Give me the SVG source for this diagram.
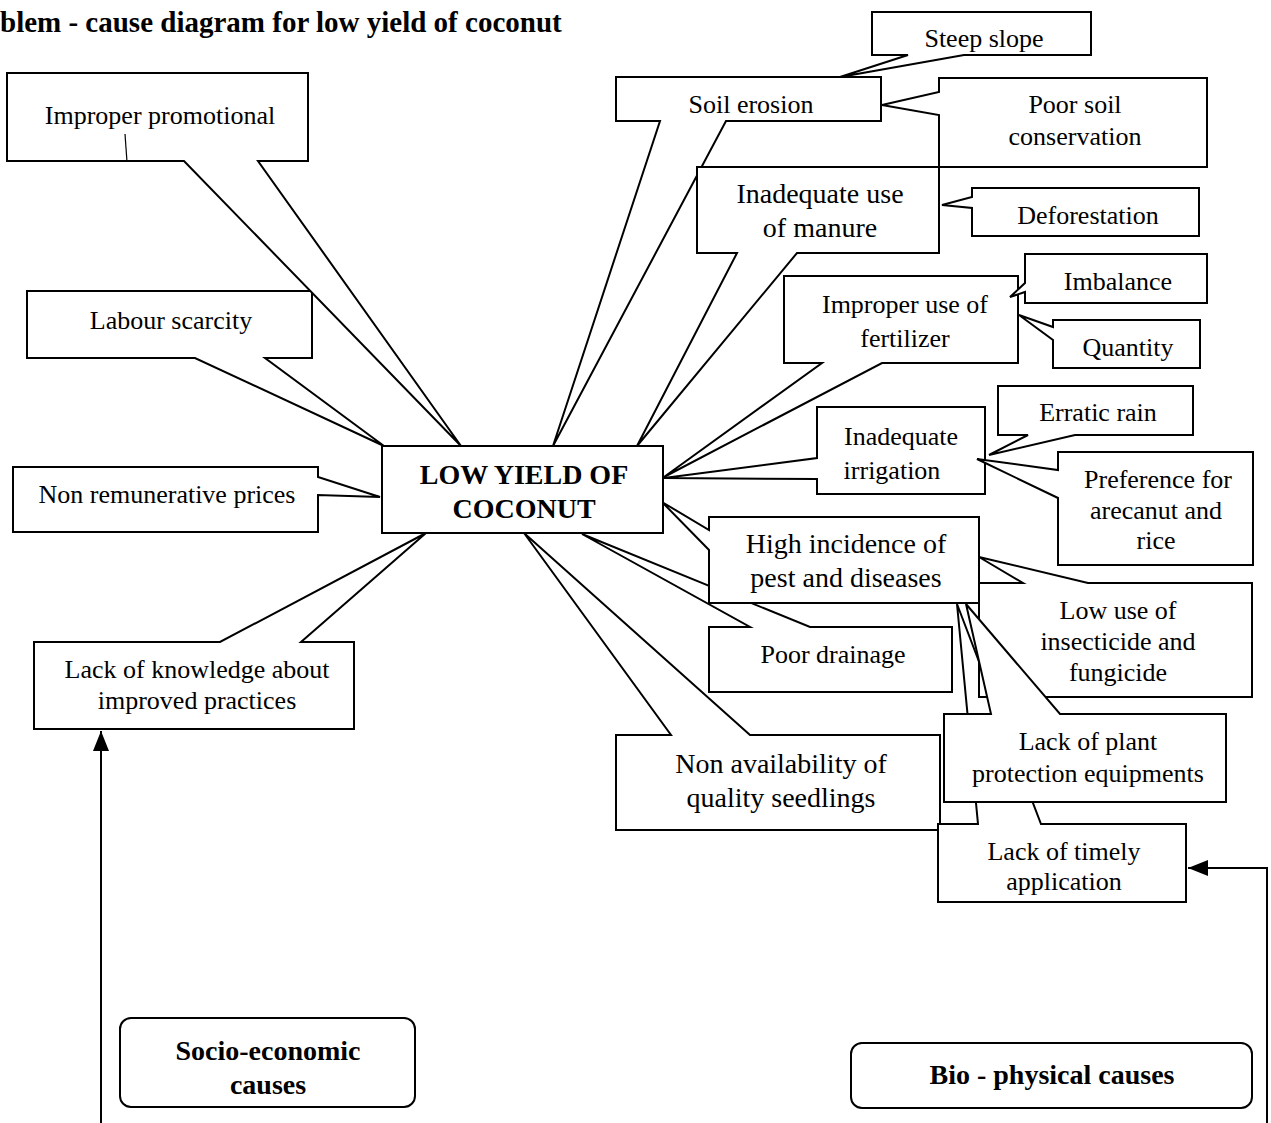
<svg xmlns="http://www.w3.org/2000/svg" width="1271" height="1123" viewBox="0 0 1271 1123">
<style>
.box{fill:#fff;stroke:#000;stroke-width:2;stroke-linejoin:miter}
.t{font-family:"Liberation Serif","Times New Roman",serif;font-size:26px;text-anchor:middle;fill:#000}
.lg{font-size:28px}
.b{font-weight:bold;font-size:28px}
.ln{fill:none;stroke:#000;stroke-width:2}
</style>
<defs>
<marker id="ah" viewBox="0 0 20 16" refX="20" refY="8" markerWidth="20" markerHeight="16" markerUnits="userSpaceOnUse" orient="auto">
<path d="M0,0 L20,8 L0,16 Z" fill="#000"/>
</marker>
</defs>
<rect width="1271" height="1123" fill="#fff"/>
<text x="0" y="32" style="font-family:'Liberation Serif','Times New Roman',serif;font-weight:bold;font-size:29px">blem - cause diagram for low yield of coconut</text>

<g id="non-availability">
<path class="box" d="M616,735 H671 L524,533 L750,735 H940 V830 H616 Z"/>
<text class="t lg" x="781" y="773">Non availability of</text>
<text class="t lg" x="781" y="807">quality seedlings</text>
</g>
<g id="timely-application">
<path class="box" d="M938,824 H978 L957,604 L1041,824 H1186 V902 H938 Z"/>
<text class="t" x="1064" y="860">Lack of timely</text>
<text class="t" x="1064" y="890">application</text>
</g>
<g id="poor-drainage">
<path class="box" d="M709,627 H750 L582,534 L810,627 H952 V692 H709 Z"/>
<text class="t" x="833" y="663">Poor drainage</text>
</g>
<g id="high-incidence">
<path class="box" d="M709,517 H979 V603 H709 V550 L662,502 L709,530 Z"/>
<text class="t lg" x="846" y="553">High incidence of</text>
<text class="t lg" x="846" y="587">pest and diseases</text>
</g>
<g id="low-use">
<path class="box" d="M979,583 H1023 L979,557 L1088,583 H1252 V697 H979 Z"/>
<text class="t" x="1118" y="619">Low use of</text>
<text class="t" x="1118" y="650">insecticide and</text>
<text class="t" x="1118" y="681">fungicide</text>
</g>
<g id="plant-protection">
<path class="box" d="M944,714 H991 L966,604 L1060,714 H1226 V802 H944 Z"/>
<text class="t" x="1088" y="750">Lack of plant</text>
<text class="t" x="1088" y="782">protection equipments</text>
</g>

<g id="labour-scarcity">
<path class="box" d="M27,291 H312 V358 H265 L384,446 L195,358 H27 Z"/>
<text class="t" x="171" y="329">Labour scarcity</text>
</g>
<g id="improper-promotional">
<path class="box" d="M7,73 H308 V161 H258 L461,446 L184,161 H7 Z"/>
<text class="t" x="160" y="124">Improper promotional</text>
<path d="M125,134 L127,162" stroke="#000" stroke-width="1.2"/>
</g>
<g id="non-remunerative">
<path class="box" d="M13,467 H318 V477 L380,497 L318,495 V532 H13 Z"/>
<text class="t" x="167" y="503">Non remunerative prices</text>
</g>
<g id="lack-knowledge">
<path class="box" d="M34,642 H220 L426,533 L301,642 H354 V729 H34 Z"/>
<text class="t" x="197" y="678">Lack of knowledge about</text>
<text class="t" x="197" y="709">improved practices</text>
</g>

<g id="soil-erosion">
<path class="box" d="M616,77 H881 V121 H726 L553,446 L660,121 H616 Z"/>
<text class="t" x="751" y="113">Soil erosion</text>
</g>
<g id="steep-slope">
<path class="box" d="M872,12 H1091 V55 H964 L840,77 L908,55 H872 Z"/>
<text class="t" x="984" y="47">Steep slope</text>
</g>
<g id="manure">
<path class="box" d="M697,167 H939 V253 H797 L637,446 L737,253 H697 Z"/>
<text class="t lg" x="820" y="203">Inadequate use</text>
<text class="t lg" x="820" y="237">of manure</text>
</g>
<g id="poor-soil-conservation">
<path class="box" d="M939,78 H1207 V167 H939 V115 L882,105 L939,92 Z"/>
<text class="t" x="1075" y="113">Poor soil</text>
<text class="t" x="1075" y="145">conservation</text>
</g>
<g id="deforestation">
<path class="box" d="M972,188 H1199 V236 H972 V208 L942,205 L972,197 Z"/>
<text class="t" x="1088" y="224">Deforestation</text>
</g>
<g id="fertilizer">
<path class="box" d="M784,276 H1018 V363 H882 L664,477 L822,363 H784 Z"/>
<text class="t" x="905" y="313">Improper use of</text>
<text class="t" x="905" y="347">fertilizer</text>
</g>
<g id="imbalance">
<path class="box" d="M1025,254 H1207 V303 H1025 V292 L1010,297 L1025,283 Z"/>
<text class="t" x="1118" y="290">Imbalance</text>
</g>
<g id="quantity">
<path class="box" d="M1053,320 H1200 V368 H1053 V340 L1019,315 L1053,327 Z"/>
<text class="t" x="1128" y="356">Quantity</text>
</g>
<g id="irrigation">
<path class="box" d="M817,407 H985 V494 H817 V479 L664,478 L817,458 Z"/>
<text class="t" x="901" y="445">Inadequate</text>
<text class="t" x="892" y="479">irrigation</text>
</g>
<g id="erratic-rain">
<path class="box" d="M998,386 H1193 V435 H1075 L989,455 L1028,435 H998 Z"/>
<text class="t" x="1098" y="421">Erratic rain</text>
</g>
<g id="preference">
<path class="box" d="M1058,452 H1253 V565 H1058 V498 L977,459 L1058,470 Z"/>
<text class="t" x="1158" y="488">Preference for</text>
<text class="t" x="1156" y="519">arecanut and</text>
<text class="t" x="1156" y="549">rice</text>
</g>

<g id="low-yield">
<rect class="box" x="382" y="446" width="281" height="87"/>
<text class="t b" x="524" y="484">LOW YIELD OF</text>
<text class="t b" x="524" y="518">COCONUT</text>
</g>

<g id="socio-economic">
<rect class="box" x="120" y="1018" width="295" height="89" rx="11"/>
<text class="t b" x="268" y="1060">Socio-economic</text>
<text class="t b" x="268" y="1094">causes</text>
</g>
<g id="bio-physical">
<rect class="box" x="851" y="1043" width="401" height="65" rx="11"/>
<text class="t b" x="1052" y="1084">Bio - physical causes</text>
</g>

<g id="connectors">
<path class="ln" d="M101,1123 V731" marker-end="url(#ah)"/>
<path class="ln" d="M1267,1123 V868 H1188" marker-end="url(#ah)"/>
</g>
</svg>
